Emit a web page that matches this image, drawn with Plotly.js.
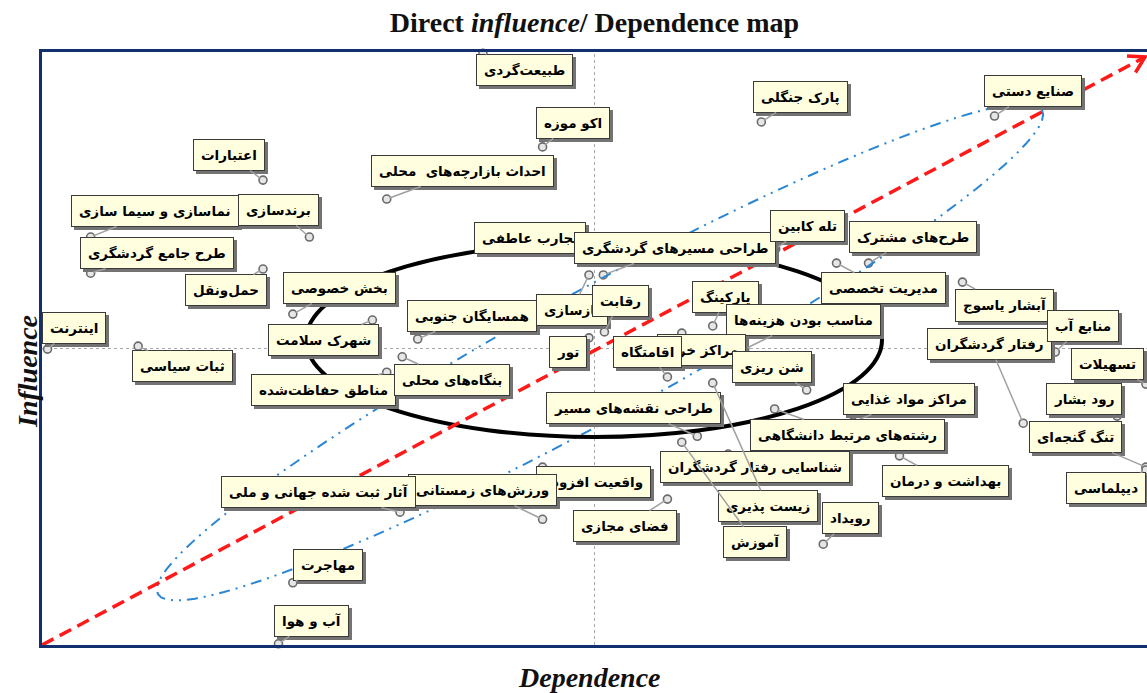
<!DOCTYPE html>
<html>
<head>
<meta charset="utf-8">
<script src="https://cdn.plot.ly/plotly-3.0.1.min.js"></script>
<style>
  html, body { margin: 0; padding: 0; background: #fff; }
  #map { width: 1147px; height: 693px; }
</style>
</head>
<body>
<div id="map"></div>
<script>
// MICMAC variables: dependence (x) and influence (y), 0-100 scale
const variables = [
  'طبیعت\u200cگردی', 'اکو موزه', 'احداث بازارچه\u200cهای  محلی', 'پارک جنگلی', 'صنایع دستی',
  'اعتبارات', 'برندسازی', 'نماسازی و سیما سازی', 'طرح جامع گردشگری', 'حمل\u200cونقل',
  'بخش خصوصی', 'اینترنت', 'ثبات سیاسی', 'شهرک سلامت', 'مناطق حفاظت\u200cشده',
  'همسایگان جنوبی', 'بنگاه\u200cهای محلی', 'تجارب عاطفی', 'طراحی مسیرهای گردشگری', 'بازسازی',
  'رقابت', 'تور', 'پارکینگ', 'تله کابین', 'طرح\u200cهای مشترک',
  'مدیریت تخصصی', 'مناسب بودن هزینه\u200cها', 'مراکز خرید', 'اقامتگاه', 'شن ریزی',
  'طراحی نقشه\u200cهای مسیر', 'مراکز مواد غذایی', 'رشته\u200cهای مرتبط دانشگاهی', 'بهداشت و درمان', 'شناسایی رفتار گردشگران',
  'زیست پذیری', 'آموزش', 'رویداد', 'فضای مجازی', 'واقعیت افزوده',
  'ورزش\u200cهای زمستانی', 'آثار ثبت شده جهانی و ملی', 'مهاجرت', 'آب و هوا', 'آبشار یاسوج',
  'رفتار گردشگران', 'منابع آب', 'تسهیلات', 'رود بشار', 'تنگ گنجه\u200cای',
  'دیپلماسی'
];
const dependence = [
  39.9, 45.3, 31.2, 65.1, 86.2,
  20.0, 24.2, 4.4, 4.4, 20.0,
  22.7, 0.5, 8.7, 29.9, 31.2,
  34.0, 32.6, 49.4, 50.8, 49.5,
  50.9, 49.5, 60.7, 66.4, 74.8,
  71.9, 63.6, 57.9, 56.6, 69.2,
  59.3, 73.4, 66.3, 77.6, 62.1,
  60.7, 57.9, 70.7, 56.6, 45.3,
  45.3, 32.4, 22.7, 21.4, 83.3,
  88.8, 91.7, 99.9, 97.3, 99.9,
  99.9
];
const influence = [
  99.8, 84.0, 75.2, 88.2, 89.2,
  78.4, 68.8, 68.8, 62.7, 63.4,
  55.8, 49.9, 50.4, 54.8, 46.0,
  51.6, 48.6, 65.8, 62.4, 62.4,
  52.8, 51.8, 53.8, 66.8, 64.4,
  64.4, 49.9, 52.6, 45.2, 43.0,
  35.2, 37.6, 39.8, 31.9, 32.2,
  44.2, 34.2, 17.0, 24.6, 30.0,
  21.2, 22.4, 10.5, 0.2, 61.2,
  37.4, 49.4, 44.0, 38.6, 30.0,
  29.5
];

// where each label box sits relative to its point (pixels)
const labelShift = [
  [42, 17], [30, -24], [76, -28], [39, -25], [38, -25],
  [-34, -25], [-31, -27], [64, -26], [66, -20], [-37, 21],
  [47, -26], [26, -21], [44, 20], [-49, 20], [-63, 18],
  [54, -23], [50, 23], [-58, -17], [72, -27], [-17, 35],
  [16, -31], [-21, 14], [13, -29], [32, -23], [44, -26],
  [47, 25], [59, -29], [20, 17], [-20, -25], [-35, -23],
  [-64, -28], [56, -23], [73, 26], [46, 25], [27, 13],
  [55, 123], [73, 100], [27, -26], [-42, 27], [51, 15],
  [-60, -29], [-82, -20], [35, -18], [33, -23], [42, 23],
  [-34, -79], [28, -26], [-38, -20], [-33, -17], [-70, -30],
  [-40, 18]
];

// plot frame in pixels, used for the hand-drawn overlays
const L = 42, T = 52, W = 1105, H = 593;
const toX = px => (px - L) / W * 100;
const toY = py => (T + H - py) / H * 100;

const points = {
  x: dependence,
  y: influence,
  type: 'scatter',
  mode: 'markers',
  cliponaxis: false,
  hoverinfo: 'skip',
  marker: { size: 8, color: '#e6e6e6', line: { color: '#6a6a6a', width: 1.6 } }
};

const labelFont = { family: 'DejaVu Sans', size: 13.5, color: '#000' };
const shadow = '#737373';
const annotations = [];
// box shadows first, then the label boxes on top
variables.forEach((name, i) => {
  annotations.push({
    x: dependence[i], y: influence[i], ax: labelShift[i][0] + 3, ay: labelShift[i][1] + 3,
    text: '<b>' + name + '</b>', showarrow: true, arrowcolor: 'rgba(0,0,0,0)',
    bgcolor: shadow, bordercolor: shadow, borderwidth: 1, borderpad: 7,
    font: Object.assign({}, labelFont, { color: shadow })
  });
});
variables.forEach((name, i) => {
  annotations.push({
    x: dependence[i], y: influence[i], ax: labelShift[i][0], ay: labelShift[i][1],
    text: '<b>' + name + '</b>', showarrow: true, arrowhead: 0,
    arrowwidth: 1.5, arrowcolor: '#a0a0a0', standoff: 3,
    bgcolor: '#ffffe0', bordercolor: '#3a3a3a', borderwidth: 1, borderpad: 7,
    font: labelFont
  });
});

annotations.push({
  xref: 'paper', yref: 'paper', x: (27 - L) / W, y: (T + H - 372) / H,
  xanchor: 'center', yanchor: 'middle',
  text: '<b><i>Influence</i></b>', textangle: -90, showarrow: false,
  font: { family: 'Liberation Serif', size: 28, color: '#111' }
});
annotations.push({
  xref: 'paper', yref: 'paper', x: (589 - L) / W, y: (T + H - 677) / H,
  xanchor: 'center', yanchor: 'middle',
  text: '<b><i>Dependence</i></b>', showarrow: false,
  font: { family: 'Liberation Serif', size: 28, color: '#111' }
});

// blue dash-dot envelope along the diagonal
function blueEnvelope() {
  const cx = 600, cy = 352, a = 504, b = 64, th = -28.7 * Math.PI / 180;
  let d = '';
  for (let k = 0; k <= 90; k++) {
    const t = k / 90 * 2 * Math.PI;
    const px = cx + a * Math.cos(t) * Math.cos(th) - b * Math.sin(t) * Math.sin(th);
    const py = cy + a * Math.cos(t) * Math.sin(th) + b * Math.sin(t) * Math.cos(th);
    d += (k ? ' L ' : 'M ') + toX(px).toFixed(3) + ',' + toY(py).toFixed(3);
  }
  return d + ' Z';
}

// red arrow head (open chevron)
const ex = 1145, ey = 57;
const chevron = 'M ' + toX(1127) + ',' + toY(56) + ' L ' + toX(ex) + ',' + toY(ey) +
  ' L ' + toX(1135.5) + ',' + toY(72.5);

const shapes = [
  { type: 'line', x0: 50, x1: 50, y0: 0, y1: 100, line: { color: '#a8a8a8', width: 1, dash: 'dot' }, layer: 'below' },
  { type: 'line', x0: 0, x1: 100, y0: 50, y1: 50, line: { color: '#a8a8a8', width: 1, dash: 'dot' }, layer: 'below' },
  { type: 'path', path: blueEnvelope(), line: { color: '#2a86d4', width: 2, dash: '11px,6px,2px,6px,2px,6px' } },
  { type: 'circle', x0: toX(306), x1: toX(882), y0: toY(437), y1: toY(243), line: { color: '#000', width: 4 } },
  { type: 'line', x0: 0, y0: 0, x1: toX(ex), y1: toY(ey), line: { color: '#ff1a1a', width: 3.5, dash: '13px,7px' } },
  { type: 'path', path: chevron, line: { color: '#ff1a1a', width: 3.5 } }
];

const axisStyle = {
  range: [0, 100], fixedrange: true, showgrid: false, zeroline: false,
  showticklabels: false, ticks: '', showline: true, mirror: true,
  linecolor: '#12306e', linewidth: 3
};

const layout = {
  width: 1147, height: 693,
  margin: { l: L, r: 0, t: T, b: 693 - T - H },
  paper_bgcolor: '#fff', plot_bgcolor: '#fff',
  title: {
    text: '<b>Direct <i>influence</i>/ Dependence map</b>',
    x: 0.5, xref: 'paper', y: 1 - 22 / 693, yref: 'container', yanchor: 'middle',
    font: { family: 'Liberation Serif', size: 28, color: '#111' }
  },
  xaxis: axisStyle,
  yaxis: axisStyle,
  showlegend: false,
  hovermode: false,
  shapes: shapes,
  annotations: annotations
};

Plotly.newPlot('map', [points], layout, { displayModeBar: false, staticPlot: true });
</script>
</body>
</html>
